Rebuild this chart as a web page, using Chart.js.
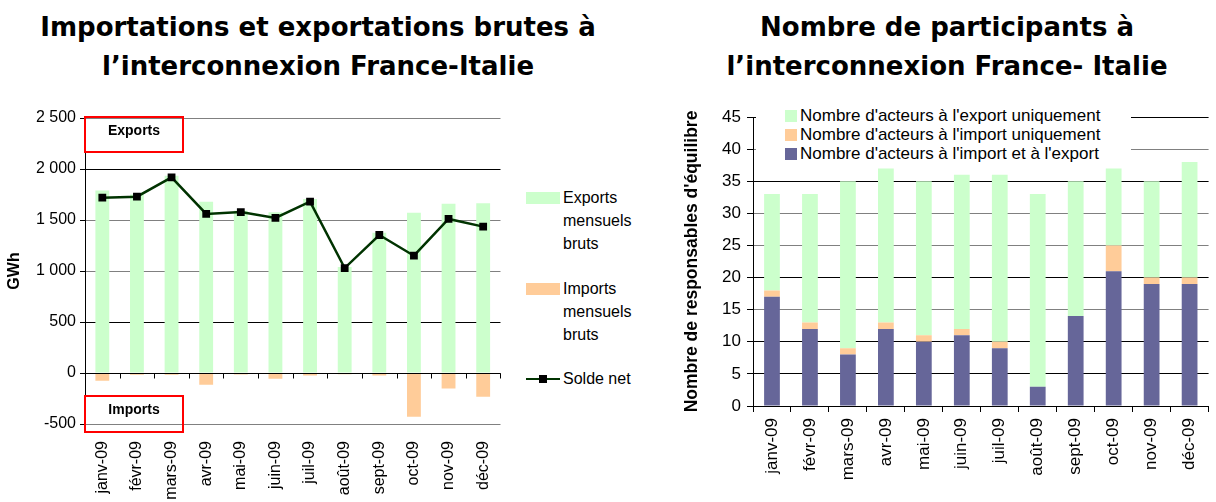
<!DOCTYPE html>
<html>
<head>
<meta charset="utf-8">
<script src="https://cdn.jsdelivr.net/npm/chart.js@4.4.1/dist/chart.umd.min.js"></script>
<style>
  body { margin: 0; background: #fff; }
  #wrap { position: relative; width: 1216px; height: 502px; overflow: hidden; font-family: "Liberation Sans", Arial, sans-serif; }
  .title { position: absolute; top: 8px; text-align: center; font-family: "DejaVu Sans", sans-serif; font-weight: bold; font-size: 26px; line-height: 39px; color: #000; }
  .box { position: absolute; border: 2px solid #ff0000; box-sizing: border-box; font-weight: bold; font-size: 14px; text-align: center; }
  #legL { position: absolute; left: 526px; top: 186px; font-size: 16px; line-height: 23px; }
  #legL .item { position: relative; padding-left: 37px; }
  #legL .sw { position: absolute; left: 0; top: 6px; width: 34px; height: 12px; }
  #legR { position: absolute; left: 756px; top: 106px; width: 375px; height: 57px; background: #fff; font-size: 17px; line-height: 19px; }
  #legR .item { position: relative; padding-left: 44px; white-space: nowrap; }
  #legR .sw { position: absolute; left: 29px; top: 4px; width: 12px; height: 12px; }
</style>
</head>
<body>
<div id="wrap">
  <div class="title" style="left:0; width:636px;">Importations et exportations brutes à<br>l’interconnexion France-Italie</div>
  <div class="title" style="left:660px; width:574px;">Nombre de participants à<br>l’interconnexion France- Italie</div>

  <canvas id="left" style="position:absolute; left:0; top:0;"></canvas>
  <canvas id="right" style="position:absolute; left:660px; top:0;"></canvas>

  <div class="box" style="left:84px; top:116px; width:100px; height:37px; padding-top:4px;">Exports</div>
  <div class="box" style="left:84px; top:395px; width:100px; height:38px; padding-top:4px;">Imports</div>

  <div id="legL">
    <div class="item"><span class="sw" style="background:#ccffcc"></span>Exports<br>mensuels<br>bruts</div>
    <div class="item" style="margin-top:22px;"><span class="sw" style="background:#ffcc99"></span>Imports<br>mensuels<br>bruts</div>
    <div class="item" style="margin-top:21px;">
      <span style="position:absolute; left:0; top:11px; width:34px; height:2px; background:#003300;"></span>
      <span style="position:absolute; left:13px; top:8px; width:8px; height:8px; background:#000;"></span>
      Solde net</div>
  </div>

  <div id="legR">
    <div class="item"><span class="sw" style="background:#ccffcc"></span>Nombre d'acteurs à l'export uniquement</div>
    <div class="item"><span class="sw" style="background:#ffcc99"></span>Nombre d'acteurs à l'import uniquement</div>
    <div class="item"><span class="sw" style="background:#666699"></span>Nombre d'acteurs à l'import et à l'export</div>
  </div>
</div>

<script>
// données
const mois = ["janv-09", "févr-09", "mars-09", "avr-09", "mai-09", "juin-09",
  "juil-09", "août-09", "sept-09", "oct-09", "nov-09", "déc-09"];

// GWh
const exportsBruts = [1790, 1750, 1935, 1680, 1590, 1575, 1705, 1040, 1375, 1570, 1660, 1665];
const importsBruts = [-75, -17, -17, -115, -14, -57, -25, -12, -25, -428, -153, -232];
const soldeNet = [1719, 1729, 1918, 1559, 1578, 1520, 1680, 1029, 1353, 1150, 1510, 1435];

// nombre de responsables d'équilibre
const acteursImportExport = [17, 12, 8, 12, 10, 11, 9, 3, 14, 21, 19, 19];
const acteursImportSeul = [1, 1, 1, 1, 1, 1, 1, 0, 0, 4, 1, 1];
const acteursExportSeul = [15, 20, 26, 24, 24, 24, 26, 30, 21, 12, 15, 18];

const fam = "'Liberation Sans', Arial, sans-serif";

function milliers(v) {
  return String(v).replace(/\B(?=(\d{3})+(?!\d))/g, " ");
}

// petites graduations sur la ligne du zéro (graphique de gauche)
const zeroTicks = {
  id: "zeroTicks",
  afterDatasetsDraw(chart) {
    const { ctx, scales: { x, y } } = chart;
    const y0 = Math.round(y.getPixelForValue(0)) + 0.5;
    ctx.save();
    ctx.strokeStyle = "#000";
    ctx.lineWidth = 1;
    ctx.beginPath();
    ctx.moveTo(x.left, y0);
    ctx.lineTo(x.right, y0);
    const w = (x.right - x.left) / mois.length;
    for (let i = 0; i <= mois.length; i++) {
      const px = Math.round(x.left + i * w) + 0.5;
      ctx.moveTo(px, y0);
      ctx.lineTo(px, y0 + 5);
    }
    ctx.stroke();
    ctx.restore();
  }
};

const gridL = { "2500": "#808080", "2000": "#000", "1500": "#808080", "1000": "#808080", "500": "#000", "0": "#000", "-500": "#808080" };

const leftCanvas = document.getElementById("left");
leftCanvas.width = 520;
leftCanvas.height = 502;

new Chart(leftCanvas, {
  type: "bar",
  data: {
    labels: mois,
    datasets: [
      {
        type: "line",
        label: "Solde net",
        data: soldeNet,
        borderColor: "#003300",
        borderWidth: 2.5,
        pointStyle: "rect",
        pointRadius: 5.5,
        pointBackgroundColor: "#000",
        pointBorderColor: "#000",
        pointBorderWidth: 0,
        tension: 0,
        order: 0
      },
      {
        label: "Exports mensuels bruts",
        data: exportsBruts,
        backgroundColor: "#ccffcc",
        grouped: false,
        barPercentage: 0.4,
        categoryPercentage: 1,
        order: 1
      },
      {
        label: "Imports mensuels bruts",
        data: importsBruts,
        backgroundColor: "#ffcc99",
        grouped: false,
        barPercentage: 0.4,
        categoryPercentage: 1,
        order: 1
      }
    ]
  },
  plugins: [zeroTicks],
  options: {
    responsive: false,
    animation: false,
    layout: { padding: { top: 118, right: 15, left: 0, bottom: 0 } },
    plugins: { legend: { display: false }, tooltip: { enabled: false } },
    scales: {
      x: {
        grid: { display: false, drawTicks: false },
        border: { display: false },
        ticks: { color: "#000", font: { family: fam, size: 16 }, minRotation: 90, maxRotation: 90, padding: 17, autoSkip: false },
        afterFit: (s) => { s.height = 78; }
      },
      y: {
        min: -500,
        max: 2500,
        ticks: { stepSize: 500, color: "#000", font: { family: fam, size: 16 }, padding: 4, callback: (v) => milliers(v) },
        grid: { color: (c) => gridL[String(c.tick.value)] || "#808080", tickLength: 5, tickColor: "#000" },
        border: { display: true, color: "#000" },
        title: { display: true, text: "GWh", color: "#000", font: { family: fam, size: 16, weight: "bold" }, padding: { top: 5, bottom: 0 } },
        afterFit: (s) => { s.width = 85; }
      }
    }
  }
});

const gridR = { "45": "#000", "40": "#808080", "35": "#000", "30": "#808080", "25": "#808080", "20": "#000", "15": "#808080", "10": "#000", "5": "#000", "0": "#000" };

const rightCanvas = document.getElementById("right");
rightCanvas.width = 556;
rightCanvas.height = 502;

new Chart(rightCanvas, {
  type: "bar",
  data: {
    labels: mois,
    datasets: [
      { label: "Nombre d'acteurs à l'import et à l'export", data: acteursImportExport, backgroundColor: "#666699" },
      { label: "Nombre d'acteurs à l'import uniquement", data: acteursImportSeul, backgroundColor: "#ffcc99" },
      { label: "Nombre d'acteurs à l'export uniquement", data: acteursExportSeul, backgroundColor: "#ccffcc" }
    ]
  },
  options: {
    responsive: false,
    animation: false,
    datasets: { bar: { barPercentage: 0.415, categoryPercentage: 1 } },
    layout: { padding: { top: 117, right: 0, left: 0, bottom: 0 } },
    plugins: { legend: { display: false }, tooltip: { enabled: false } },
    scales: {
      x: {
        stacked: true,
        grid: { display: true, drawOnChartArea: false, drawTicks: true, tickLength: 6, color: "#000", offset: true },
        border: { display: true, color: "#000" },
        ticks: { color: "#000", font: { family: fam, size: 17 }, minRotation: 90, maxRotation: 90, padding: 6, autoSkip: false },
        afterFit: (s) => { s.height = 96; }
      },
      y: {
        stacked: true,
        min: 0,
        max: 45,
        ticks: { stepSize: 5, color: "#000", font: { family: fam, size: 17 }, padding: 6 },
        grid: { color: (c) => gridR[String(c.tick.value)] || "#808080", tickLength: 6, tickColor: "#000" },
        border: { display: true, color: "#000" },
        title: { display: true, text: "Nombre de responsables d'équilibre", color: "#000", font: { family: fam, size: 17.5, weight: "bold" }, padding: { top: 22, bottom: 0 } },
        afterFit: (s) => { s.width = 93; }
      }
    }
  }
});
</script>
</body>
</html>
